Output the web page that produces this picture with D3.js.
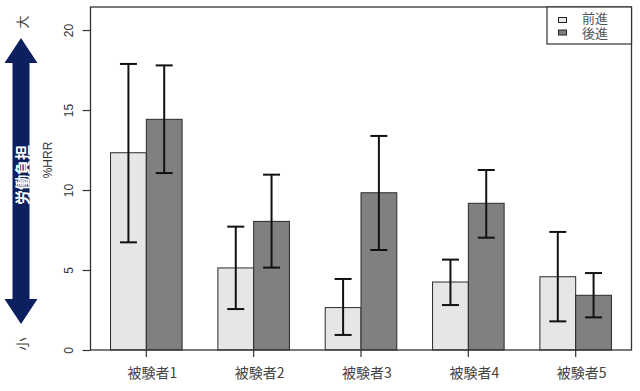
<!DOCTYPE html>
<html><head><meta charset="utf-8">
<script src="https://cdn.jsdelivr.net/npm/d3@7"></script>
<style>body{margin:0;background:#fff}svg{display:block}</style>
</head><body>
<script>
const categories = ["被験者1","被験者2","被験者3","被験者4","被験者5"];
const seriesNames = ["前進","後進"];
const forwardMean = [12.33, 5.13, 2.65, 4.25, 4.58];
const forwardLow  = [6.73, 2.56, 0.94, 2.81, 1.79];
const forwardHigh = [17.88, 7.71, 4.44, 5.65, 7.38];
const backwardMean = [14.42, 8.04, 9.83, 9.17, 3.42];
const backwardLow  = [11.06, 5.15, 6.25, 7.02, 2.04];
const backwardHigh = [17.79, 10.96, 13.38, 11.25, 4.81];
const yTicks = [0, 5, 10, 15, 20];
const colors = ["#e6e6e6", "#808080"];

const W = 640, H = 391;
const svg = d3.select("body").append("svg").attr("width", W).attr("height", H);

const L = 90.5, R = 631.5, T = 7, B = 350;
// R barplot style: units, bar width 1, space 1 before each group
const x = d3.scaleLinear().domain([0.44, 15.56]).range([L, R]);
const y = d3.scaleLinear().domain([0, 21.44]).range([B, T]);

const series = [
  {mean: forwardMean, lo: forwardLow, hi: forwardHigh},
  {mean: backwardMean, lo: backwardLow, hi: backwardHigh}
];
const data = [];
categories.forEach((c, i) => {
  series.forEach((s, j) => {
    const left = 1 + i * 3 + j;
    data.push({c, i, j, left, v: s.mean[i], lo: s.lo[i], hi: s.hi[i]});
  });
});

// bars
svg.append("g").selectAll("rect").data(data).join("rect")
  .attr("x", d => x(d.left)).attr("y", d => y(d.v))
  .attr("width", d => x(d.left + 1) - x(d.left))
  .attr("height", d => y(0) - y(d.v))
  .attr("fill", d => colors[d.j]).attr("stroke", "#2a2a2a").attr("stroke-width", 1);

// error bars
const eb = svg.append("g").attr("stroke", "#111").attr("stroke-width", 2);
data.forEach(d => {
  const cx = x(d.left + 0.5);
  eb.append("line").attr("x1", cx).attr("x2", cx).attr("y1", y(d.lo)).attr("y2", y(d.hi));
  eb.append("line").attr("x1", cx - 8.5).attr("x2", cx + 8.5).attr("y1", y(d.hi)).attr("y2", y(d.hi));
  eb.append("line").attr("x1", cx - 8.5).attr("x2", cx + 8.5).attr("y1", y(d.lo)).attr("y2", y(d.lo));
});

// box
svg.append("rect").attr("x", L).attr("y", T).attr("width", R - L).attr("height", B - T)
  .attr("fill", "none").attr("stroke", "#333").attr("stroke-width", 1.3);

// y axis
const yAxis = svg.append("g").attr("transform", `translate(${L},0)`)
  .call(d3.axisLeft(y).tickValues(yTicks).tickSize(8).tickFormat(d3.format("d")));
yAxis.select(".domain").remove();
yAxis.selectAll(".tick line").attr("stroke", "#333").attr("stroke-width", 1.2);
yAxis.selectAll(".tick text").attr("x", 0).attr("dy", 0)
  .attr("transform", "translate(-22,0) rotate(-90)")
  .attr("text-anchor", "middle").attr("dominant-baseline", "central")
  .attr("font-family", "Liberation Sans, Arial, sans-serif").attr("font-size", 12).attr("fill", "#333");

svg.append("text").attr("transform", `translate(48,160) rotate(-90)`)
  .attr("text-anchor", "middle").attr("dominant-baseline", "central")
  .attr("font-family", "Liberation Sans, Arial, sans-serif").attr("font-size", 12).attr("fill", "#333")
  .text("%HRR");

// x axis ticks and labels
const xg = svg.append("g");
categories.forEach((c, i) => {
  const cx = x(1 + i * 3 + 1);
  xg.append("line").attr("x1", cx).attr("x2", cx).attr("y1", B).attr("y2", B + 7)
    .attr("stroke", "#333").attr("stroke-width", 1.2);
  xg.append("text").attr("x", cx + 6).attr("y", 372).attr("text-anchor", "middle")
    .attr("dominant-baseline", "central")
    .attr("font-family", "Noto Sans CJK JP, sans-serif").attr("font-size", 14).attr("fill", "#444")
    .text(c);
});

// legend
const lg = svg.append("g");
lg.append("rect").attr("x", 547).attr("y", T).attr("width", R - 547).attr("height", 37)
  .attr("fill", "#fff").attr("stroke", "#333").attr("stroke-width", 1.2);
seriesNames.forEach((n, j) => {
  const cy = 20 + j * 12.5;
  lg.append("rect").attr("x", 558.5).attr("y", cy - 2.5).attr("width", 8).attr("height", 5)
    .attr("fill", colors[j]).attr("stroke", "#222").attr("stroke-width", 1);
  lg.append("text").attr("x", 582).attr("y", 22.5 + j * 15.5)
    .attr("font-family", "Liberation Sans, Noto Sans CJK JP, sans-serif").attr("font-size", 13)
    .attr("fill", "#555").text(n);
});

// left double arrow
const ax = 21, aTop = 38, aBot = 324, hh = 25, hw = 16.5, sw = 8.5;
svg.append("path").attr("fill", "#0c1f5e").attr("d",
  `M${ax},${aTop} L${ax + hw},${aTop + hh} L${ax + sw},${aTop + hh} L${ax + sw},${aBot - hh} L${ax + hw},${aBot - hh}
   L${ax},${aBot} L${ax - hw},${aBot - hh} L${ax - sw},${aBot - hh} L${ax - sw},${aTop + hh} L${ax - hw},${aTop + hh} Z`);
svg.append("text").attr("transform", `translate(${ax},175) rotate(-90)`)
  .attr("text-anchor", "middle").attr("dominant-baseline", "central")
  .attr("font-family", "Noto Sans CJK JP, sans-serif").attr("font-weight", "bold").attr("font-size", 15)
  .attr("fill", "#fff").text("労働負担");
svg.append("text").attr("transform", `translate(${ax},22) rotate(-90)`)
  .attr("text-anchor", "middle").attr("dominant-baseline", "central")
  .attr("font-family", "Noto Sans CJK JP, sans-serif").attr("font-size", 13).attr("fill", "#444").text("大");
svg.append("text").attr("transform", `translate(${ax},344) rotate(-90)`)
  .attr("text-anchor", "middle").attr("dominant-baseline", "central")
  .attr("font-family", "Noto Sans CJK JP, sans-serif").attr("font-size", 13).attr("fill", "#444").text("小");
</script>
</body></html>
